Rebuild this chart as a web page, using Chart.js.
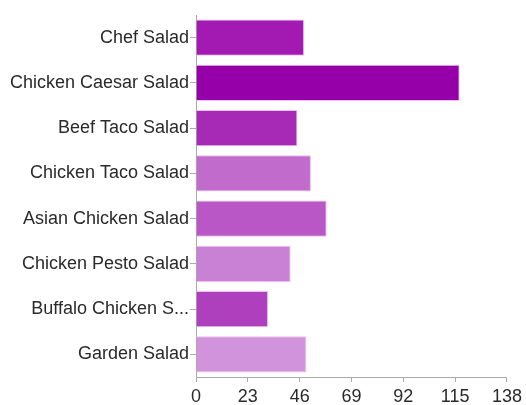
<!DOCTYPE html>
<html>
<head>
<meta charset="utf-8">
<script src="https://cdn.jsdelivr.net/npm/chart.js@4"></script>
<style>
  html, body { margin: 0; padding: 0; background: #fff; }
  #wrap { width: 526px; height: 405px; }
</style>
</head>
<body>
<div id="wrap"><canvas id="salads" width="526" height="405"></canvas></div>
<script>
const salads = ['Chef Salad', 'Chicken Caesar Salad', 'Beef Taco Salad', 'Chicken Taco Salad',
    'Asian Chicken Salad', 'Chicken Pesto Salad', 'Buffalo Chicken S...', 'Garden Salad'];
const counts = [48, 117, 45, 51, 58, 42, 32, 49];
const barColors = ['#a21ab1', '#9500a8', '#a62ab5', '#c16bcd', '#b957c6', '#c981d6', '#af40bd', '#d193db'];
const xTicks = [0, 23, 46, 69, 92, 115, 138];

Chart.defaults.font.family = '"Liberation Sans", Arial, sans-serif';
Chart.defaults.font.size = 18;
Chart.defaults.color = '#2a2a2a';

new Chart(document.getElementById('salads'), {
    type: 'bar',
    data: {
        labels: salads,
        datasets: [{
            data: counts,
            backgroundColor: barColors,
            borderColor: 'rgba(236, 190, 242, 1)',
            borderWidth: 1,
            categoryPercentage: 0.8,
            barPercentage: 1.0
        }]
    },
    options: {
        indexAxis: 'y',
        responsive: false,
        animation: false,
        layout: { padding: { top: 15, right: 18, left: 0, bottom: 0 } },
        plugins: { legend: { display: false }, tooltip: { enabled: false } },
        scales: {
            x: {
                min: 0,
                max: 138,
                afterBuildTicks: (axis) => { axis.ticks = xTicks.map(v => ({ value: v })); },
                afterFit: (axis) => { axis.height = 28; },
                grid: { drawOnChartArea: false, color: '#aaa', tickLength: 5 },
                border: { color: '#aaa' },
                ticks: { padding: 4, maxRotation: 0 }
            },
            y: {
                afterFit: (axis) => { axis.width = 196; },
                grid: { drawOnChartArea: false, offset: false, color: '#aaa', tickLength: 6 },
                border: { color: '#aaa' },
                ticks: { padding: 1 }
            }
        }
    }
});
</script>
</body>
</html>
